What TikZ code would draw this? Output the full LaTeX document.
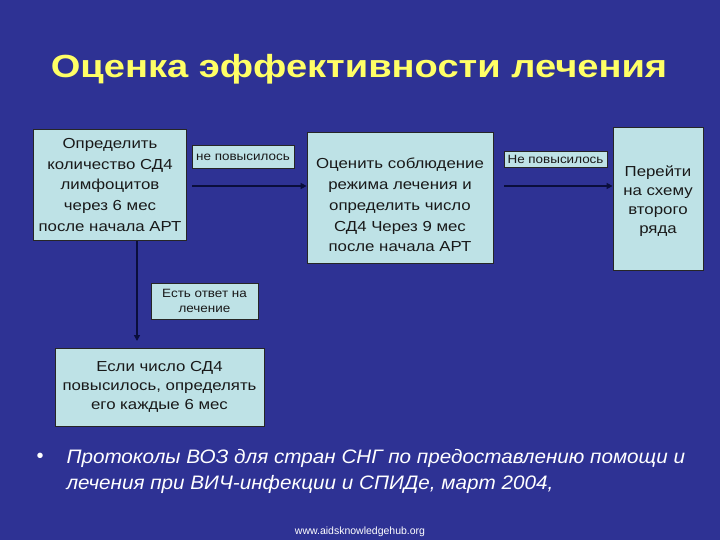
\documentclass[tikz,border=0pt]{standalone}
\usepackage{fontspec}
\setmainfont{Liberation Sans}
\newfontfamily\widebox[FakeStretch=1.16]{Liberation Sans}
\newfontfamily\widelbl[FakeStretch=1.12]{Liberation Sans}
\newfontfamily\widettl[FakeStretch=1.19]{Liberation Sans}
\newfontfamily\widebul[FakeStretch=1.06]{Liberation Sans}
\usetikzlibrary{arrows.meta}
\definecolor{bg}{RGB}{46,50,148}
\definecolor{boxfill}{RGB}{190,226,230}
\definecolor{ttl}{RGB}{255,255,102}
\definecolor{arr}{RGB}{10,14,60}
\tikzset{
  box/.style={draw=black!85, line width=0.8pt, fill=boxfill, align=center, inner sep=0pt, font=\widebox\fontsize{14.5}{20.8}\selectfont, text=black!90},
  lbl/.style={draw=black!85, line width=0.8pt, fill=boxfill, align=center, inner sep=1.5pt, font=\widelbl\fontsize{12}{15}\selectfont, text=black!90},
  conn/.style={draw=arr, line width=1.8pt, -{Triangle[length=6pt,width=6pt]}}
}
\begin{document}
\begin{tikzpicture}[x=1pt,y=-1pt]
\fill[bg] (0,0) rectangle (720,540);
\useasboundingbox (0,0) rectangle (720,540);
\node[font=\widettl\bfseries\fontsize{32}{36}\selectfont, text=ttl] (title) at (359,69) {Оценка эффективности лечения};

\node[box, minimum width=153pt, minimum height=111pt] (b1) at (110,185)
  {Определить\\количество СД4\\лимфоцитов\\через 6 мес\\после начала АРТ};
\node[lbl, minimum width=102pt, minimum height=23pt] (l1) at (243,157) {не повысилось};
\node[box, minimum width=186pt, minimum height=131pt] (b2) at (400,197.5) {};
\node[box, draw=none, fill=none] (b2t) at (400,205)
  {Оценить соблюдение\\режима лечения и\\определить число\\СД4 Через 9 мес\\после начала АРТ};
\node[lbl, minimum width=103pt, minimum height=16pt] (l2) at (555.5,159) {Не повысилось};
\node[box, minimum width=90pt, minimum height=143pt] (b3) at (658,198.5) {};
\node[box, draw=none, fill=none, font=\widebox\fontsize{14.5}{19}\selectfont] (b3t) at (658,201.5)
  {Перейти\\на схему\\второго\\ряда};
\node[lbl, minimum width=107pt, minimum height=36pt, font=\widelbl\fontsize{12}{15}\selectfont] (l3) at (204.5,301) {Есть ответ на\\лечение};
\node[box, minimum width=209pt, minimum height=78pt, font=\widebox\fontsize{14.5}{19}\selectfont] (b4) at (159.5,387)
  {Если число СД4\\повысилось, определять\\его каждые 6 мес};

\coordinate (a1s) at (192,186);
\coordinate (a2s) at (504,186);
\draw[conn] (a1s) -- (a1s -| b2.west);
\draw[conn] (a2s) -- (a2s -| b3.west);
\draw[conn] (b1.south -| 137,0) -- (137,341);

\node[anchor=west, text=white, font=\fontsize{20}{26}\selectfont] (bul) at (33,458) {•};
\node[anchor=north west, text=white, align=left, font=\widebul\itshape\fontsize{19.5}{26}\selectfont] (ref) at (63,446)
  {Протоколы ВОЗ для стран СНГ по предоставлению помощи и\\лечения при ВИЧ-инфекции и СПИДе, март 2004,};
\node[text=white, font=\fontsize{10.5}{12}\selectfont] (url) at (360,532) {www.aidsknowledgehub.org};
\end{tikzpicture}
\end{document}
